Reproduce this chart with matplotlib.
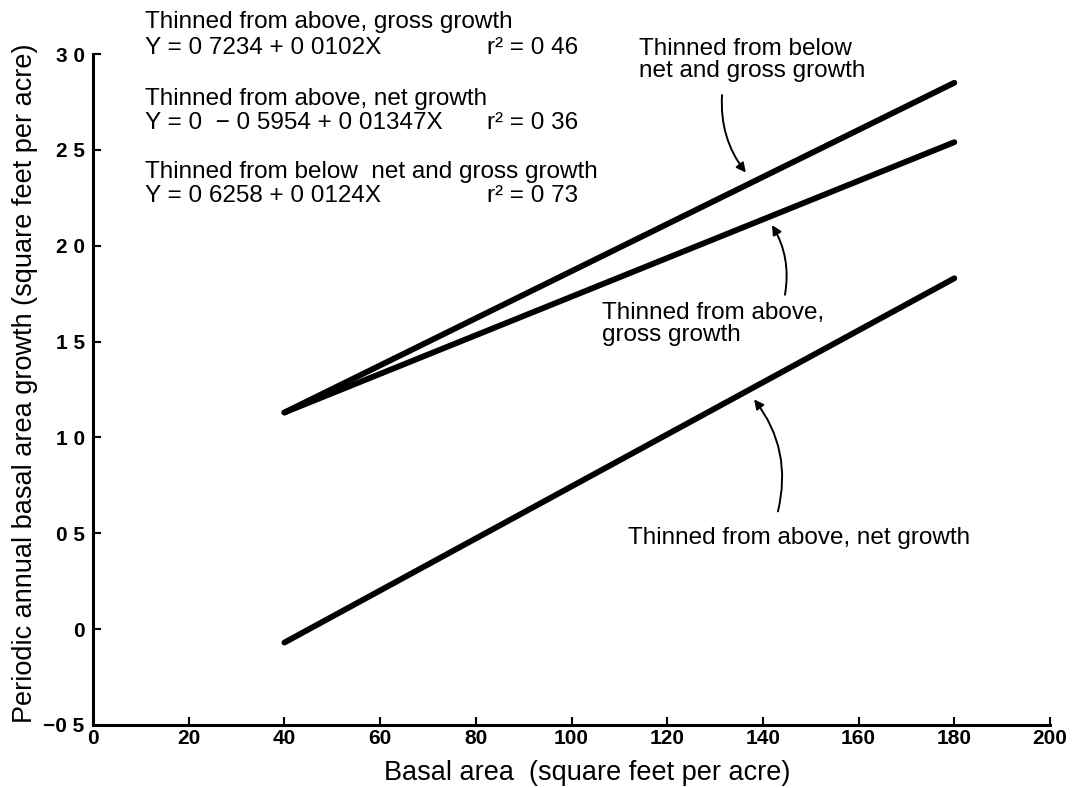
import matplotlib
matplotlib.use("Agg")
import matplotlib.pyplot as plt

# --- data ---
X_ENDS = [40, 180]
BELOW_NET_GROSS = [1.13, 2.85]   # thinned from below, net and gross growth
ABOVE_GROSS = [1.13, 2.54]       # thinned from above, gross growth
ABOVE_NET = [-0.07, 1.83]        # thinned from above, net growth

X_TICKS = [0, 20, 40, 60, 80, 100, 120, 140, 160, 180, 200]
Y_TICKS = [-0.5, 0, 0.5, 1.0, 1.5, 2.0, 2.5, 3.0]
Y_TICK_LABELS = ["\u22120 5", "0", "0 5", "1 0", "1 5", "2 0", "2 5", "3 0"]

EQUATIONS = [
    ("Thinned from above, gross growth", "Y = 0 7234 + 0 0102X", "r\u00b2 = 0 46"),
    ("Thinned from above, net growth", "Y = 0  \u2212 0 5954 + 0 01347X", "r\u00b2 = 0 36"),
    ("Thinned from below  net and gross growth", "Y = 0 6258 + 0 0124X", "r\u00b2 = 0 73"),
]

TEXT_FONT = ["Liberation Sans", "DejaVu Sans"]
TICK_FONT = ["Liberation Sans Narrow", "Liberation Sans", "DejaVu Sans"]

fig = plt.figure(figsize=(10.86, 7.88), dpi=100)
ax = fig.add_axes([93 / 1086, 1 - 725 / 788, (1050 - 93) / 1086, (725 - 54) / 788])

for ys in (BELOW_NET_GROSS, ABOVE_GROSS, ABOVE_NET):
    ax.plot(X_ENDS, ys, color="black", lw=4.2, solid_capstyle="round")

ax.set_xlim(0, 200)
ax.set_ylim(-0.5, 3.0)
for side in ("top", "right"):
    ax.spines[side].set_visible(False)
for side in ("left", "bottom"):
    ax.spines[side].set_linewidth(2.2)

ax.set_xticks(X_TICKS)
ax.set_xticklabels([str(v) for v in X_TICKS])
ax.set_yticks(Y_TICKS)
ax.set_yticklabels(Y_TICK_LABELS)
ax.tick_params(direction="in", length=6, width=1.5, labelsize=15)
ax.tick_params(axis="y", pad=6)
ax.tick_params(axis="x", pad=3)
for lab in ax.get_xticklabels() + ax.get_yticklabels():
    lab.set_family(TICK_FONT)
    lab.set_fontweight("bold")

ax.set_xlabel("Basal area  (square feet per acre)", fontsize=19.5, family=TEXT_FONT)
ax.xaxis.set_label_coords(0.516, -0.052)
ax.set_ylabel("Periodic annual basal area growth (square feet per acre)", fontsize=19.5,
              family=TEXT_FONT)
ax.yaxis.set_label_coords(-0.057, 0.51)

# equation block at upper left
rows = [22, 48, 99, 123, 172, 196]
for i, (title, eq, r2) in enumerate(EQUATIONS):
    fig.text(145 / 1086, 1 - rows[2 * i] / 788, title, fontsize=17.5, family=TEXT_FONT, va="center")
    fig.text(145 / 1086, 1 - rows[2 * i + 1] / 788, eq, fontsize=17.5, family=TEXT_FONT, va="center")
    fig.text(487 / 1086, 1 - rows[2 * i + 1] / 788, r2, fontsize=17.5, family=TEXT_FONT, va="center")

# curve labels with arrows
fig.text(639 / 1086, 1 - 60 / 788, "Thinned from below\nnet and gross growth", fontsize=17.5,
         family=TEXT_FONT, va="center", linespacing=1.0)
fig.text(602 / 1086, 1 - 324 / 788, "Thinned from above,\ngross growth", fontsize=17.5,
         family=TEXT_FONT, va="center", linespacing=1.0)
fig.text(628 / 1086, 1 - 538 / 788, "Thinned from above, net growth", fontsize=17.5,
         family=TEXT_FONT, va="center")

arrow = dict(arrowstyle="-|>", color="black", lw=1.4, mutation_scale=14)
ax.annotate("", xy=(136.8, 2.37), xytext=(131.5, 2.80),
            arrowprops=dict(arrow, connectionstyle="arc3,rad=0.2"))
ax.annotate("", xy=(141.6, 2.12), xytext=(144.5, 1.73),
            arrowprops=dict(arrow, connectionstyle="arc3,rad=0.2"))
ax.annotate("", xy=(137.8, 1.21), xytext=(143.0, 0.60),
            arrowprops=dict(arrow, connectionstyle="arc3,rad=0.25"))

fig.savefig("out.png", dpi=100)
